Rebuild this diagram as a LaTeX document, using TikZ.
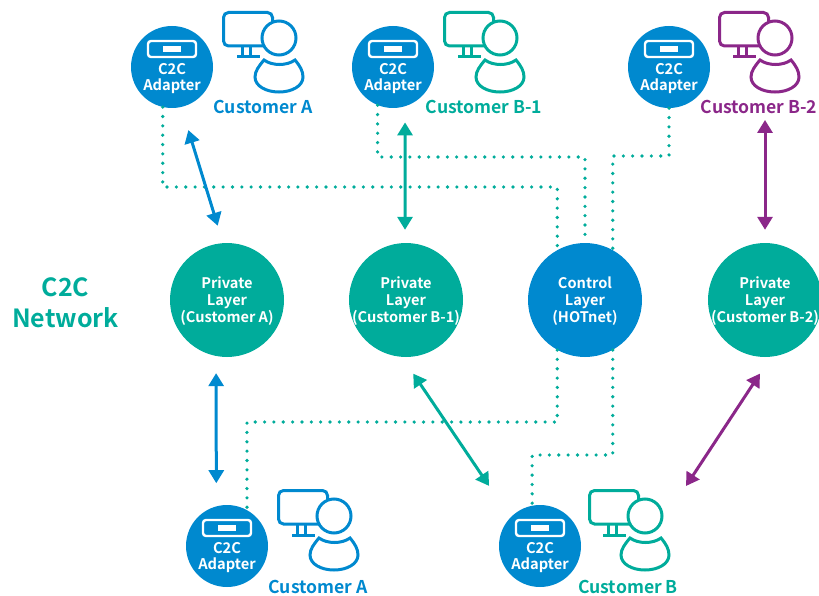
\documentclass[tikz,border=0pt]{standalone}
\usepackage{fontspec}
\setmainfont{Noto Sans CJK JP}[BoldFont={Noto Sans CJK JP Bold}]
\usetikzlibrary{arrows.meta,calc}
\definecolor{myblue}{RGB}{0, 137, 207}
\definecolor{myteal}{RGB}{0, 172, 155}
\definecolor{mypurple}{RGB}{139, 39, 137}

\tikzset{
  layer/.style={circle,inner sep=0,minimum size=114pt},
  adapter/.style={circle,inner sep=0,minimum size=82pt,fill=myblue},
  inlayer/.style={align=center,text=white,font=\bfseries\fontsize{14.6}{17}\selectfont},
  inadapter/.style={align=center,text=white,font=\bfseries\fontsize{14.7}{16}\selectfont},
  custlabel/.style={font=\bfseries\fontsize{17.6}{20}\selectfont,inner sep=1pt},
  dotline/.style={myteal,line width=3.6pt,line cap=round,dash pattern=on 0pt off 9.35pt},
  twoway/.style={line width=3pt,{Triangle[width=15pt,length=13pt]}-{Triangle[width=15pt,length=13pt]}}
}

% adapter: name, x, y
\newcommand{\adapternode}[3]{
  \node[adapter] (#1) at (#2,#3) {};
  \draw[white,line width=2.4pt,rounded corners=3pt] ($(#1)+(-24,-26)$) rectangle ($(#1)+(24,-10)$);
  \fill[white] ($(#1)+(-9,-21)$) rectangle ($(#1)+(9,-15)$);
  \node[inadapter] (#1txt) at ($(#1)+(0,11.5)$) {C2C\\Adapter};
}
% customer icon: shift x, shift y, colour
\newcommand{\custicon}[3]{
  \begin{scope}[shift={(#1,#2)},draw=#3,line width=3pt]
    \draw[rounded corners=5pt] (223.5,12.5) rectangle (272.5,46);
    \draw (242,46) -- (242,57) (250,46) -- (250,57);
    \draw (237,57) -- (260,57);
    \draw[fill=white] (279,38) circle (17);
    \draw (264,60) .. controls (272,66) and (287,66) .. (295,60)
      .. controls (300,66) and (303,71) .. (303,77)
      .. controls (303,86) and (292,92) .. (279,92)
      .. controls (266,92) and (255,86) .. (255,77)
      .. controls (255,71) and (259,66) .. (264,60) -- cycle;
  \end{scope}
}

\begin{document}
\begin{tikzpicture}[x=1pt,y=-1pt]
\useasboundingbox (0,0) rectangle (819,596);

% =========================
% adapters and customers - top row
% =========================
\adapternode{adpA}{172}{67}
\adapternode{adpB}{393}{67}
\adapternode{adpC}{669}{67}
\custicon{0}{0}{myblue}
\custicon{221}{0}{myteal}
\custicon{496}{0}{mypurple}
\node[custlabel,myblue] (lblA) at (263,107) {Customer A};
\node[custlabel,myteal] (lblB) at (484,107) {Customer B-1};
\node[custlabel,mypurple] (lblC) at (759,107) {Customer B-2};

% =========================
% layers
% =========================
\node[layer,fill=myteal] (privA) at (227,300) {};
\node[layer,fill=myteal] (privB) at (406,300) {};
\node[layer,fill=myblue] (ctrl) at (585,300) {};
\node[layer,fill=myteal] (privC) at (765,300) {};
\node[inlayer] (privAtxt) at ($(privA)+(0,1.5)$) {Private\\Layer\\(Customer A)};
\node[inlayer] (privBtxt) at ($(privB)+(0,1.5)$) {Private\\Layer\\(Customer B-1)};
\node[inlayer] (ctrltxt) at ($(ctrl)+(0,1.5)$) {Control\\Layer\\(HOTnet)};
\node[inlayer] (privCtxt) at ($(privC)+(0,1.5)$) {Private\\Layer\\(Customer B-2)};
\node[align=center,myteal,font=\bfseries\fontsize{25}{31}\selectfont] (net) at (65.5,303) {C2C\\Network};

% =========================
% adapters and customers - bottom row
% =========================
\adapternode{adpD}{227}{546}
\adapternode{adpE}{540}{546}
\custicon{55}{478}{myblue}
\custicon{366}{478}{myteal}
\node[custlabel,myblue] (lblD) at (318,587) {Customer A};
\node[custlabel,myteal] (lblE) at (628,587) {Customer B};
\coordinate (iconE) at (686,486);

% dotted control lines
\coordinate (busA) at (0,187);
\coordinate (busB) at (0,157);
\coordinate (busC) at (0,156);
\coordinate (busD) at (0,422);
\coordinate (busE) at (0,455);
\draw[dotline] (adpA.257) -- (adpA.257 |- busA) -- (ctrl.119 |- busA) -- (ctrl.119);
\draw[dotline] (adpB.248) -- (adpB.248 |- busB) -- (ctrl.90 |- busB) -- (ctrl.90);
\draw[dotline] (adpC.270) -- (adpC.270 |- busC) -- (ctrl.61 |- busC) -- (ctrl.61);
\draw[dotline] (ctrl.241) -- (ctrl.241 |- busD) -- (adpD.61 |- busD) -- (adpD.61);
\draw[dotline] (ctrl.299) -- (ctrl.299 |- busE) -- (adpE.101 |- busE) -- (adpE.101);

% two way arrows
\draw[twoway,myblue,shorten <=24pt,shorten >=18pt] (adpA.283) -- (privA.94);
\draw[twoway,myteal,shorten <=16pt,shorten >=13pt] (adpB.287) -- (privB.91);
\draw[twoway,mypurple,shorten <=5pt,shorten >=13pt] (lblC.south -| privC) -- (privC.north);
\draw[twoway,myblue,shorten <=17pt,shorten >=23pt] (privA.259) -- (adpD.105);
\draw[twoway,myteal,shorten <=20pt,shorten >=38pt] (privB.266) -- (adpE.136);
\draw[twoway,mypurple,shorten <=20pt] (privC.276) -- (iconE);

\end{tikzpicture}
\end{document}
